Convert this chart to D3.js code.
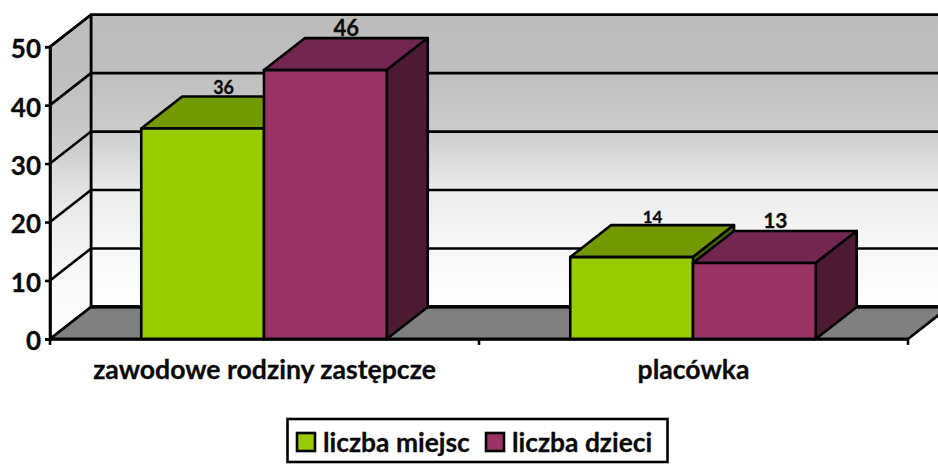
<!DOCTYPE html>
<html><head><meta charset="utf-8">
<script src="https://cdn.jsdelivr.net/npm/d3@7"></script>
<style>
html,body{margin:0;padding:0;background:#fff;overflow:hidden}
svg{display:block}
text{font-family:Lato,"Open Sans",sans-serif;font-weight:700;fill:#0a0a0a;stroke:#0a0a0a;stroke-width:.3px}
</style></head><body>
<svg id="c" width="938" height="464"></svg>
<script>
const categories=["zawodowe rodziny zastępcze","placówka"];
const seriesNames=["liczba miejsc","liczba dzieci"];
const miejsc=[36,14];
const dzieci=[46,13];
const seriesValues=[miejsc,dzieci];
const yTicks=[0,10,20,30,40,50];
const labelSizes=[[18,17],[22,21]];

const frontFill=["#99cc00","#993366"],topFill=["#739900","#732650"],sideFill=["#4d6600","#4d1a33"];
const W=938,H=464,dx=41,dy=-32,sw=2.6;
const svg=d3.select("#c");
const x0=d3.scaleBand().domain(categories).range([50,908]);
const y=d3.scaleLinear().domain([0,50]).range([338.9,46.7]);
const groupW=245.5;
const x1=d3.scaleBand().domain(d3.range(seriesNames.length)).range([0,groupW]);
const line=d3.line();

const defs=svg.append("defs");
const g=defs.append("linearGradient").attr("id","wall").attr("x1",0).attr("x2",0).attr("y1",0).attr("y2",1);
[[0,"#bcbcbc"],[.2,"#bfbfbf"],[.4,"#cccccc"],[.6,"#ebebeb"],[.8,"#f8f8f8"],[1,"#ffffff"]].forEach(s=>
  g.append("stop").attr("offset",s[0]).attr("stop-color",s[1]));

const y0=y(0),yT=y(50),xL=x0.range()[0],xR=x0.range()[1];
const poly=(pts,fill,sw2)=>svg.append("path").attr("d",line(pts)+"Z").attr("fill",fill)
  .attr("stroke","#000").attr("stroke-width",sw2||sw).attr("stroke-linejoin","round");

// walls
poly([[xL+dx,yT+dy],[W+20,yT+dy],[W+20,y0+dy],[xL+dx,y0+dy]],"url(#wall)");
poly([[xL,yT],[xL+dx,yT+dy],[xL+dx,y0+dy],[xL,y0]],"url(#wall)");
// floor
poly([[xL,y0],[xL+dx,y0+dy],[xR+dx,y0+dy],[xR,y0]],"#808080",2.6);
svg.append("path").attr("d",line([[xL+dx,y0+dy],[W,y0+dy]])).attr("stroke","#000").attr("stroke-width",3.4);
// gridlines
yTicks.filter(v=>v>0).forEach(v=>{
  svg.append("path").attr("fill","none").attr("stroke","#000").attr("stroke-width",sw)
    .attr("d",line([[xL,y(v)],[xL+dx,y(v)+dy],[W+20,y(v)+dy]]));
});
// bars
categories.forEach((c,ci)=>{
  const gx=x0(c)+(x0.bandwidth()-groupW)/2-0.5;
  seriesValues.forEach((vals,si)=>{
    const a=gx+x1(si),b=a+x1.bandwidth(),t=y(vals[ci]);
    poly([[a,t],[a+dx,t+dy],[b+dx,t+dy],[b,t]],topFill[si]);
    poly([[b,t],[b+dx,t+dy],[b+dx,y0+dy],[b,y0]],sideFill[si]);
    poly([[a,t],[b,t],[b,y0],[a,y0]],frontFill[si]);
  });
});
// value labels
categories.forEach((c,ci)=>{
  const gx=x0(c)+(x0.bandwidth()-groupW)/2;
  seriesValues.forEach((vals,si)=>{
    const a=gx+x1(si),t=y(vals[ci]);
    svg.append("text").attr("x",a+x1.bandwidth()/2+dx/2).attr("y",t+dy-2.5)
      .attr("text-anchor","middle").attr("font-size",labelSizes[si][ci]).text(vals[ci]);
  });
});
// y axis
const ay=svg.append("g").attr("transform",`translate(${xL},0)`)
  .call(d3.axisLeft(y).tickValues(yTicks).tickSize(5).tickPadding(4).tickFormat(d3.format("d")));
ay.attr("font-family",null);
ay.select(".domain").attr("stroke","#000").attr("stroke-width",sw);
ay.selectAll(".tick line").attr("stroke","#000").attr("stroke-width",sw);
ay.selectAll(".tick text").attr("font-size",26).attr("dy","0.42em");
// x axis
const ax=svg.append("g").attr("transform",`translate(0,${y0})`)
  .call(d3.axisBottom(x0).tickSize(0).tickPadding(21));
ax.attr("font-family",null);
ax.select(".domain").attr("stroke","#000").attr("stroke-width",sw);
ax.selectAll(".tick text").attr("font-size",26.6);
[xL,xL+x0.bandwidth(),xR].forEach(v=>svg.append("path")
  .attr("d",line([[v,y0],[v,y0+6]])).attr("stroke","#000").attr("stroke-width",sw));
// legend
svg.append("rect").attr("x",287.5).attr("y",419).attr("width",380).attr("height",43)
  .attr("fill","#fff").attr("stroke","#000").attr("stroke-width",sw);
const legX=[297,486];
seriesNames.forEach((n,i)=>{
  svg.append("rect").attr("x",legX[i]).attr("y",433).attr("width",18).attr("height",18)
    .attr("fill",frontFill[i]).attr("stroke","#000").attr("stroke-width",sw);
  svg.append("text").attr("x",legX[i]+26).attr("y",452).attr("font-size",26.4).text(n);
});
</script>
</body></html>
